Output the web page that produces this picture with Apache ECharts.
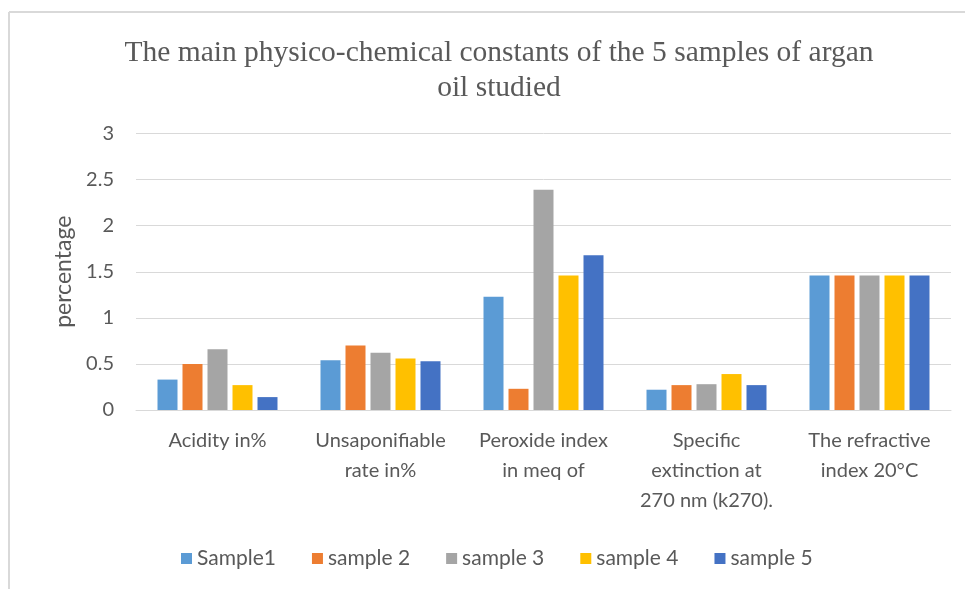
<!DOCTYPE html>
<html><head><meta charset="utf-8">
<script src="https://cdn.jsdelivr.net/npm/echarts@6/dist/echarts.min.js"></script>
<style>html,body{margin:0;padding:0;background:#fff}#c{width:965px;height:589px}</style>
</head><body><div id="c"></div>
<script>
const categories = ['Acidity in%', 'Unsaponifiable\nrate in%', 'Peroxide index\nin meq of', 'Specific\nextinction at\n270 nm (k270).', 'The refractive\nindex 20°C'];
const seriesNames = ['Sample1', 'sample 2', 'sample 3', 'sample 4', 'sample 5'];
const sample1 = [0.33, 0.54, 1.23, 0.22, 1.46];
const sample2 = [0.50, 0.70, 0.23, 0.27, 1.46];
const sample3 = [0.66, 0.62, 2.39, 0.28, 1.46];
const sample4 = [0.27, 0.56, 1.46, 0.39, 1.46];
const sample5 = [0.14, 0.53, 1.68, 0.27, 1.46];
const colors = ['#5B9BD5', '#ED7D31', '#A5A5A5', '#FFC000', '#4472C4'];
const values = [sample1, sample2, sample3, sample4, sample5];

const chart = echarts.init(document.getElementById('c'), null, {renderer: 'canvas'});
const font = 'Lato, "Open Sans", sans-serif';
chart.setOption({
  animation: false,
  color: colors,
  graphic: [
    {type: 'line', shape: {x1: 9, y1: 12, x2: 965, y2: 12}, style: {stroke: '#d9d9d9', lineWidth: 2}},
    {type: 'line', shape: {x1: 9, y1: 12, x2: 9, y2: 589}, style: {stroke: '#d9d9d9', lineWidth: 2}}
  ],
  title: {
    text: 'The main physico-chemical constants of the 5 samples of argan\noil studied',
    left: 494, top: 31, textAlign: 'center',
    textStyle: {fontFamily: '"Liberation Serif", serif', fontWeight: 'normal', fontSize: 29.5, color: '#595959', lineHeight: 35}
  },
  legend: {
    data: seriesNames, top: 543, left: 176,
    itemWidth: 11, itemHeight: 11, itemGap: 36,
    icon: 'rect',
    textStyle: {fontFamily: font, fontSize: 21, color: '#595959'}
  },
  grid: {left: 136, right: 14, top: 133.5, bottom: 179},
  xAxis: {
    type: 'category', data: categories,
    axisLine: {lineStyle: {color: '#d9d9d9', width: 1}},
    axisTick: {show: false},
    axisLabel: {interval: 0, margin: 16, fontFamily: font, fontSize: 20, color: '#595959', lineHeight: 30}
  },
  yAxis: {
    type: 'value', min: 0, max: 3, interval: 0.5,
    name: 'percentage', nameLocation: 'middle', nameGap: 58,
    nameTextStyle: {fontFamily: font, fontSize: 23, color: '#595959'},
    axisLine: {show: false}, axisTick: {show: false},
    splitLine: {lineStyle: {color: '#d9d9d9', width: 1}},
    axisLabel: {margin: 22, fontFamily: font, fontSize: 20, color: '#595959'}
  },
  series: values.map((v, i) => ({
    name: seriesNames[i], type: 'bar', data: v,
    barWidth: 20, barGap: '25%', barCategoryGap: '26%'
  }))
});
</script></body></html>
